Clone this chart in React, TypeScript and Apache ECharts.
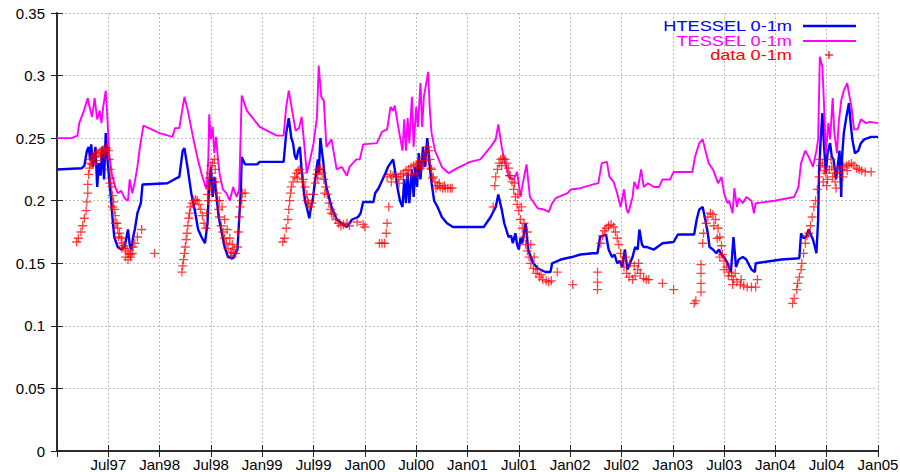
import React, { useEffect, useRef } from "react";
import * as echarts from "echarts";

// x values are months since Jan 1997
const X_TICK_LABELS = ["", "Jul97", "Jan98", "Jul98", "Jan99", "Jul99", "Jan00", "Jul00", "Jan01", "Jul01", "Jan02", "Jul02", "Jan03", "Jul03", "Jan04", "Jul04", "Jan05"];

const LEGEND_NAMES = ["HTESSEL 0-1m", "TESSEL 0-1m", "data 0-1m"];

const HTESSEL: [number, number][] = [
  // 1997
  [0, 0.225], [2.9, 0.226], [3.2, 0.228], [3.5, 0.24], [3.7, 0.243], [3.9, 0.232], [4.0, 0.245], [4.2, 0.227], [4.5, 0.243], [4.7, 0.211],
  [4.9, 0.23], [5.1, 0.22], [5.3, 0.243], [5.5, 0.217], [5.7, 0.254], [5.9, 0.233], [6.3, 0.203], [6.5, 0.185], [6.7, 0.171], [7.1, 0.163],
  [7.5, 0.161], [7.9, 0.163], [8.3, 0.177], [8.5, 0.165], [8.7, 0.161], [8.9, 0.171], [9.1, 0.177], [9.4, 0.19], [9.8, 0.198], [10.0, 0.213],
  [12.9, 0.214], [13.7, 0.217], [14.3, 0.219],
  // 1998
  [14.7, 0.24], [14.9, 0.242], [15.3, 0.225], [15.7, 0.206], [16.1, 0.193], [16.5, 0.177], [16.9, 0.171], [17.3, 0.166], [17.6, 0.182], [17.8, 0.214],
  [18.0, 0.227], [18.2, 0.203], [18.4, 0.219], [18.7, 0.2], [18.9, 0.187], [19.2, 0.177], [19.6, 0.163], [20.0, 0.155], [20.6, 0.154], [21.1, 0.161],
  [21.5, 0.209], [21.6, 0.235], [22.0, 0.229], [23.4, 0.229], [23.7, 0.231], [26.5, 0.231],
  // 1999
  [26.8, 0.254], [27.1, 0.266], [27.4, 0.25], [27.6, 0.246], [27.8, 0.236], [28.0, 0.233], [28.2, 0.24], [28.4, 0.243], [28.6, 0.225], [28.8, 0.211],
  [29.0, 0.2], [29.2, 0.195], [29.5, 0.186], [29.7, 0.195], [29.9, 0.2], [30.1, 0.212], [30.2, 0.217], [30.4, 0.228], [30.5, 0.233], [30.6, 0.222],
  [30.8, 0.25], [31.0, 0.238], [31.1, 0.233], [31.3, 0.22], [31.5, 0.211], [31.8, 0.203], [32.1, 0.195], [32.4, 0.19], [32.7, 0.185], [33.3, 0.182],
  [33.9, 0.179], [34.5, 0.185], [35.2, 0.187], [35.5, 0.19], [35.8, 0.199], [37.0, 0.199],
  // 2000
  [37.2, 0.206], [37.6, 0.21], [38.0, 0.216], [38.4, 0.222], [38.7, 0.227], [39.0, 0.23], [39.3, 0.233], [39.5, 0.225], [39.8, 0.211], [40.1, 0.2],
  [40.4, 0.195], [40.6, 0.217], [40.8, 0.198], [41.0, 0.222], [41.2, 0.198], [41.5, 0.225], [41.7, 0.203], [41.9, 0.227], [42.1, 0.211], [42.3, 0.238],
  [42.5, 0.217], [42.8, 0.243], [43.0, 0.227], [43.3, 0.25], [43.5, 0.233], [43.8, 0.214], [44.1, 0.2], [44.5, 0.195], [45.0, 0.187], [45.6, 0.182],
  [46.3, 0.179], [49.9, 0.179],
  // 2001
  [50.7, 0.187], [51.3, 0.195], [51.6, 0.205], [52.0, 0.193], [52.3, 0.182], [52.8, 0.171], [53.1, 0.172], [53.3, 0.166], [53.6, 0.174], [53.8, 0.165],
  [54.0, 0.161], [54.2, 0.17], [54.4, 0.166], [54.8, 0.182], [55.1, 0.161], [55.4, 0.155], [55.7, 0.15], [56.2, 0.146], [57.1, 0.143], [57.7, 0.143],
  [57.9, 0.15], [58.9, 0.153], [60.2, 0.155], [61.2, 0.157], [62.7, 0.158], [63.2, 0.158],
  // 2002
  [63.5, 0.171], [64.2, 0.173], [64.5, 0.161], [64.9, 0.155], [65.2, 0.157], [65.5, 0.15], [65.8, 0.152], [66.1, 0.147], [66.4, 0.161], [66.7, 0.145],
  [67.0, 0.15], [67.3, 0.155], [67.6, 0.163], [67.9, 0.161], [68.1, 0.177], [68.4, 0.165], [68.6, 0.163], [69.0, 0.163], [69.8, 0.161], [70.8, 0.166],
  [72.1, 0.167], [72.6, 0.173], [74.5, 0.173],
  // 2003
  [74.8, 0.185], [75.1, 0.193], [75.5, 0.195], [75.8, 0.185], [76.1, 0.174], [76.3, 0.163], [76.7, 0.161], [77.1, 0.158], [77.4, 0.161], [77.7, 0.157],
  [78.0, 0.155], [78.4, 0.15], [78.8, 0.143], [79.1, 0.171], [79.4, 0.147], [79.7, 0.153], [80.2, 0.155], [80.6, 0.153], [81.2, 0.145], [81.6, 0.143],
  [81.7, 0.15], [82.7, 0.151], [84.7, 0.153], [86.8, 0.154],
  // 2004
  [87.0, 0.174], [87.3, 0.17], [87.6, 0.171], [87.9, 0.177], [88.2, 0.172], [88.4, 0.169], [88.8, 0.158], [89.0, 0.185], [89.1, 0.222], [89.3, 0.249],
  [89.5, 0.27], [89.7, 0.243], [89.9, 0.222], [90.1, 0.238], [90.4, 0.246], [90.6, 0.235], [90.8, 0.233], [91.1, 0.217], [91.5, 0.24], [91.7, 0.203],
  [91.8, 0.235], [92.0, 0.254], [92.3, 0.267], [92.6, 0.278], [92.8, 0.262], [93.0, 0.249], [93.3, 0.238], [93.7, 0.24], [94.0, 0.246], [94.4, 0.249],
  [95.2, 0.251], [96, 0.251],
];

const TESSEL: [number, number][] = [
  // 1997
  [0, 0.25], [1.7, 0.25], [2.4, 0.252], [2.6, 0.262], [3.1, 0.271], [3.6, 0.282], [3.8, 0.275], [4.1, 0.267], [4.4, 0.282], [4.7, 0.265],
  [5.0, 0.272], [5.2, 0.262], [5.4, 0.275], [5.7, 0.288], [5.9, 0.265], [6.1, 0.238], [6.4, 0.222], [6.8, 0.211], [7.1, 0.206], [7.5, 0.208],
  [7.9, 0.202], [8.3, 0.2], [8.5, 0.217], [8.8, 0.206], [9.1, 0.215], [9.4, 0.227], [9.7, 0.243], [10.1, 0.26], [12.0, 0.254], [13.5, 0.251],
  [13.8, 0.258], [14.3, 0.258],
  // 1998
  [14.9, 0.283], [15.3, 0.272], [15.9, 0.251], [16.4, 0.235], [17.0, 0.219], [17.5, 0.209], [17.7, 0.235], [17.8, 0.269], [18.0, 0.249], [18.2, 0.259],
  [18.4, 0.238], [18.6, 0.251], [18.8, 0.235], [19.0, 0.222], [19.4, 0.209], [19.8, 0.206], [20.2, 0.2], [20.6, 0.211], [21.0, 0.203], [21.3, 0.209],
  [21.6, 0.284], [22.2, 0.272], [23.7, 0.259], [25.7, 0.252], [26.5, 0.252],
  // 1999
  [26.8, 0.275], [27.1, 0.288], [27.5, 0.272], [27.9, 0.256], [28.3, 0.258], [28.6, 0.267], [28.9, 0.246], [29.2, 0.222], [29.6, 0.233], [30.0, 0.246],
  [30.4, 0.267], [30.6, 0.308], [30.9, 0.283], [31.2, 0.28], [31.5, 0.243], [32.1, 0.249], [32.7, 0.225], [33.3, 0.227], [33.9, 0.22], [34.2, 0.227],
  [35.0, 0.233], [35.4, 0.233], [35.8, 0.245],
  // 2000
  [37.4, 0.246], [38.0, 0.255], [38.6, 0.257], [39.0, 0.275], [39.3, 0.272], [39.5, 0.276], [39.9, 0.259], [40.4, 0.24], [40.6, 0.265], [40.8, 0.24],
  [41.0, 0.266], [41.2, 0.246], [41.5, 0.283], [41.7, 0.243], [42.0, 0.275], [42.2, 0.259], [42.5, 0.294], [42.7, 0.259], [42.9, 0.283], [43.1, 0.291],
  [43.4, 0.303], [43.6, 0.272], [43.8, 0.254], [44.2, 0.24], [45.0, 0.227], [45.8, 0.222], [46.8, 0.226], [48.3, 0.231], [49.5, 0.233],
  // 2001
  [50.7, 0.243], [51.3, 0.249], [51.6, 0.261], [52.0, 0.243], [52.3, 0.233], [52.8, 0.219], [53.4, 0.217], [53.8, 0.223], [54.2, 0.203], [54.5, 0.215],
  [54.9, 0.229], [55.3, 0.203], [56.2, 0.194], [56.9, 0.193], [57.5, 0.191], [57.9, 0.198], [58.3, 0.202], [59.7, 0.206], [60.1, 0.209], [61.2, 0.21],
  [62.7, 0.213], [63.3, 0.214],
  // 2002
  [63.7, 0.23], [64.3, 0.231], [64.6, 0.219], [65.1, 0.215], [65.5, 0.206], [65.9, 0.195], [66.3, 0.209], [66.6, 0.193], [66.8, 0.19], [67.3, 0.203],
  [67.5, 0.215], [67.9, 0.209], [68.3, 0.225], [68.6, 0.211], [69.1, 0.214], [69.8, 0.211], [70.4, 0.211], [70.8, 0.217], [71.7, 0.217], [72.1, 0.223],
  [74.3, 0.223],
  // 2003
  [74.6, 0.235], [75.1, 0.246], [75.5, 0.249], [75.9, 0.238], [76.2, 0.23], [76.7, 0.225], [77.3, 0.214], [77.7, 0.219], [78.0, 0.206], [78.4, 0.198],
  [78.6, 0.2], [79.0, 0.19], [79.2, 0.21], [79.5, 0.195], [79.7, 0.202], [80.2, 0.198], [80.6, 0.203], [81.2, 0.2], [81.5, 0.19], [81.7, 0.198],
  [83.9, 0.2], [86.2, 0.203],
  // 2004
  [86.7, 0.211], [87.0, 0.23], [87.5, 0.24], [87.9, 0.235], [88.4, 0.227], [88.8, 0.24], [89.0, 0.249], [89.2, 0.315], [89.5, 0.307], [89.7, 0.275],
  [89.9, 0.238], [90.2, 0.262], [90.4, 0.249], [90.7, 0.282], [90.9, 0.254], [91.2, 0.238], [91.4, 0.262], [91.7, 0.28], [92.0, 0.288], [92.4, 0.294],
  [92.6, 0.286], [92.9, 0.275], [93.2, 0.257], [93.6, 0.257], [94.0, 0.265], [94.6, 0.262], [95.0, 0.263], [96, 0.262],
];

const DATA: [number, number][] = [
  // 1997
  [2.3, 0.167], [2.5, 0.17], [2.8, 0.175], [3.0, 0.18], [3.2, 0.186], [3.4, 0.192], [3.5, 0.199], [3.6, 0.206], [3.6, 0.213], [3.7, 0.221],
  [3.8, 0.226], [3.9, 0.23], [4.0, 0.233], [4.2, 0.235], [4.4, 0.236], [4.6, 0.238], [4.8, 0.238], [5.0, 0.239], [5.2, 0.24], [5.4, 0.241],
  [5.6, 0.241], [5.8, 0.242], [6.0, 0.24], [6.1, 0.233], [6.2, 0.225], [6.3, 0.218], [6.4, 0.211], [6.5, 0.204], [6.6, 0.199], [6.7, 0.193],
  [6.8, 0.188], [7.0, 0.182], [7.1, 0.178], [7.3, 0.174], [7.5, 0.17], [7.6, 0.166], [7.8, 0.164], [8.0, 0.162], [8.2, 0.16], [8.4, 0.158],
  [8.6, 0.157], [8.8, 0.158], [8.0, 0.155], [8.3, 0.153], [8.9, 0.163], [9.1, 0.166], [9.4, 0.171], [9.9, 0.177], [11.4, 0.158],
  [4.1, 0.229], [4.5, 0.232], [5.1, 0.235], [5.5, 0.237], [6.2, 0.214], [6.5, 0.195], [6.8, 0.182], [7.2, 0.171], [7.6, 0.162], [8.6, 0.155],
  // 1998
  [14.6, 0.143], [14.7, 0.148], [14.8, 0.153], [14.9, 0.158], [15.0, 0.163], [15.1, 0.169], [15.2, 0.174], [15.3, 0.18], [15.4, 0.186], [15.5, 0.19],
  [15.6, 0.195], [15.8, 0.198], [16.0, 0.2], [16.2, 0.201], [16.4, 0.2], [16.6, 0.197], [16.8, 0.193], [17.0, 0.188], [17.2, 0.182], [17.4, 0.178],
  [17.5, 0.19], [17.6, 0.205], [17.7, 0.212], [17.8, 0.218], [17.9, 0.222], [18.0, 0.228], [18.2, 0.23], [18.4, 0.233], [18.5, 0.225], [18.6, 0.215],
  [18.7, 0.206], [18.8, 0.2], [18.9, 0.193], [19.0, 0.187], [19.2, 0.18], [19.4, 0.175], [19.6, 0.17], [19.8, 0.166], [20.0, 0.162], [20.3, 0.159],
  [20.6, 0.158], [20.9, 0.158], [21.1, 0.163], [21.2, 0.175], [21.3, 0.187], [21.4, 0.195], [21.6, 0.2], [21.7, 0.206], [19.0, 0.2], [19.3, 0.195],
  [19.6, 0.185], [19.9, 0.177], [20.2, 0.17], [20.5, 0.165], [18.3, 0.215], [18.0, 0.21], [17.7, 0.2], [20.4, 0.156], [20.7, 0.161], [22.0, 0.206],
  // 1999
  [26.4, 0.167], [26.6, 0.17], [26.8, 0.178], [27.0, 0.185], [27.1, 0.193], [27.2, 0.2], [27.3, 0.206], [27.4, 0.211], [27.6, 0.215], [27.8, 0.219],
  [28.0, 0.222], [28.2, 0.224], [28.4, 0.225], [28.6, 0.222], [28.8, 0.217], [29.0, 0.211], [29.2, 0.205], [29.4, 0.198], [29.6, 0.195], [29.8, 0.198],
  [30.0, 0.205], [30.2, 0.214], [30.4, 0.221], [30.6, 0.225], [30.8, 0.226], [31.0, 0.222], [31.2, 0.217], [31.4, 0.211], [31.6, 0.205], [31.8, 0.198],
  [32.0, 0.193], [32.3, 0.189], [32.6, 0.185], [32.9, 0.182], [33.2, 0.18], [33.5, 0.181], [33.9, 0.182], [34.2, 0.18], [35.8, 0.181], [36.0, 0.179],
  [28.1, 0.218], [28.7, 0.215], [29.3, 0.2], [30.5, 0.218], [31.3, 0.206], [32.1, 0.19],
  // 2000
  [35.1, 0.183], [37.7, 0.166], [38.0, 0.166], [38.3, 0.166], [38.5, 0.174], [38.6, 0.182], [38.8, 0.195], [38.6, 0.219], [39.0, 0.221], [39.3, 0.22],
  [39.6, 0.219], [39.9, 0.219], [40.2, 0.221], [40.5, 0.222], [40.8, 0.224], [41.1, 0.225], [41.4, 0.227], [41.7, 0.228], [42.0, 0.229], [42.3, 0.23],
  [42.6, 0.232], [42.9, 0.235], [43.1, 0.238], [43.3, 0.243], [43.5, 0.24], [43.6, 0.233], [43.8, 0.225], [44.0, 0.219], [44.2, 0.215], [44.5, 0.212],
  [44.8, 0.211], [45.1, 0.21], [45.4, 0.21], [45.7, 0.21], [46.0, 0.21], [46.2, 0.21], [40.5, 0.217], [41.0, 0.22], [42.0, 0.222], [42.5, 0.226],
  [39.1, 0.215], [40.0, 0.214], [41.5, 0.221], [42.8, 0.228], [43.2, 0.232], [43.7, 0.226], [43.9, 0.218], [44.3, 0.21], [44.7, 0.214], [45.3, 0.212],
  // 2001
  [51.0, 0.195], [51.2, 0.212], [51.3, 0.219], [51.5, 0.225], [51.7, 0.23], [51.9, 0.233], [52.1, 0.234], [52.4, 0.233], [52.6, 0.23], [52.8, 0.226],
  [53.0, 0.22], [53.2, 0.215], [53.4, 0.209], [53.6, 0.203], [53.8, 0.197], [54.0, 0.192], [54.2, 0.185], [54.4, 0.178], [54.6, 0.171], [54.8, 0.165],
  [55.0, 0.16], [55.2, 0.155], [55.4, 0.15], [55.7, 0.146], [56.0, 0.142], [56.4, 0.139], [56.8, 0.137], [57.2, 0.136], [57.5, 0.135], [57.8, 0.136],
  [58.5, 0.143], [54.6, 0.182], [55.0, 0.175], [55.4, 0.165], [55.8, 0.155], [60.3, 0.133], [63.2, 0.143], [63.2, 0.129], [63.2, 0.135],
  [52.0, 0.228], [52.9, 0.22], [53.5, 0.214], [53.9, 0.205], [54.3, 0.195], [56.2, 0.145], [56.6, 0.141],
  // 2002
  [63.6, 0.166], [63.8, 0.172], [64.0, 0.176], [64.2, 0.178], [64.5, 0.18], [64.8, 0.181], [65.1, 0.179], [65.3, 0.175], [65.5, 0.17], [65.7, 0.165],
  [65.9, 0.158], [66.1, 0.152], [66.3, 0.147], [66.6, 0.142], [66.9, 0.139], [67.3, 0.137], [67.6, 0.14], [67.9, 0.145], [68.2, 0.142], [68.6, 0.138],
  [68.9, 0.137], [69.2, 0.137], [66.5, 0.155], [67.0, 0.15], [67.5, 0.148], [68.0, 0.15], [70.8, 0.134], [72.1, 0.129],
  // 2003
  [74.5, 0.118], [74.7, 0.12], [75.3, 0.127], [75.3, 0.134], [75.3, 0.142], [75.3, 0.149], [75.5, 0.166], [75.6, 0.174], [75.9, 0.182], [76.1, 0.187],
  [76.4, 0.19], [76.7, 0.189], [77.0, 0.185], [77.3, 0.178], [77.5, 0.171], [77.7, 0.164], [77.8, 0.157], [78.0, 0.152], [78.3, 0.147], [78.6, 0.143],
  [78.9, 0.14], [79.1, 0.137], [79.5, 0.135], [79.9, 0.133], [80.3, 0.132], [80.7, 0.131], [81.2, 0.131], [81.7, 0.131], [81.9, 0.137], [77.5, 0.155],
  [78.0, 0.145], [78.5, 0.14], [79.0, 0.133], [76.8, 0.18], [77.2, 0.17], [79.3, 0.142], [80.0, 0.137],
  // 2004
  [86.0, 0.118], [86.2, 0.122], [86.5, 0.129], [86.6, 0.134], [86.8, 0.139], [87.0, 0.145], [87.1, 0.15], [87.3, 0.158], [87.5, 0.166], [87.7, 0.172],
  [87.9, 0.174], [88.1, 0.18], [88.3, 0.187], [88.5, 0.195], [88.7, 0.2], [88.9, 0.209], [89.1, 0.219], [89.3, 0.228], [89.5, 0.23], [89.7, 0.224],
  [89.9, 0.222], [90.1, 0.217], [90.3, 0.225], [90.5, 0.233], [90.7, 0.219], [90.9, 0.222], [91.1, 0.21], [91.3, 0.225], [91.5, 0.222], [91.7, 0.225],
  [92.0, 0.227], [92.3, 0.228], [92.6, 0.229], [92.9, 0.23], [93.2, 0.228], [93.5, 0.226], [93.8, 0.225], [94.1, 0.224], [94.5, 0.223], [95.2, 0.223],
  [89.2, 0.233], [89.6, 0.215], [90.0, 0.212], [90.6, 0.227], [91.0, 0.215], [91.9, 0.219], [92.4, 0.224],
];

const BLUE = "#0000ff";
const MAGENTA = "#ff00ff";
const RED = "#ff0000";
const PLUS = "path://M3,0H4V3H7V4H4V7H3V4H0V3H3Z";
const FONT = '"Liberation Sans", Arial, sans-serif';

export default function App() {
  const ref = useRef<HTMLDivElement>(null);
  useEffect(() => {
    if (!ref.current) return;
    const chart = echarts.init(ref.current, undefined, { renderer: "svg" });
    const gridLine = { show: true, lineStyle: { color: "#bdbdbd", type: [2, 2] as any, width: 1 } };
    const axisLine = { show: true, lineStyle: { color: "#222", width: 1.5 } };
    const axisTick = { show: true, inside: true, length: 6, lineStyle: { color: "#222", width: 1 } };
    const xBase = { type: "value" as const, min: 0, max: 96, interval: 6 };
    const yBase = { type: "value" as const, min: 0, max: 0.35, interval: 0.05 };
    const legendText = (i: number, color: string, y: number) => ({
      type: "text",
      x: 792,
      y,
      scaleX: 1.3,
      z: 100,
      style: {
        text: LEGEND_NAMES[i],
        fill: color,
        font: `14px ${FONT}`,
        align: "right",
        textAlign: "right",
        verticalAlign: "middle",
        textVerticalAlign: "middle",
      },
    });
    chart.setOption({
      animation: false,
      backgroundColor: "#ffffff",
      grid: { left: 57, right: 22, top: 13, bottom: 21, outerBoundsMode: "none", containLabel: false },
      xAxis: [
        {
          ...xBase,
          position: "bottom",
          axisLine,
          axisTick,
          splitLine: gridLine,
          axisLabel: {
            margin: 6,
            color: "#000",
            fontFamily: FONT,
            fontSize: 15,
            formatter: (v: number) => X_TICK_LABELS[Math.round(v / 6)] ?? "",
          },
        },
        { ...xBase, position: "top", axisLine, axisTick, splitLine: { show: false }, axisLabel: { show: false } },
      ],
      yAxis: [
        {
          ...yBase,
          position: "left",
          axisLine,
          axisTick,
          splitLine: gridLine,
          axisLabel: {
            margin: 12,
            color: "#000",
            fontFamily: FONT,
            fontSize: 15,
            formatter: (v: number) => String(parseFloat(v.toFixed(2))),
          },
        },
        { ...yBase, position: "right", axisLine, axisTick, splitLine: { show: false }, axisLabel: { show: false } },
      ],
      series: [
        {
          name: LEGEND_NAMES[0],
          type: "line",
          data: HTESSEL,
          symbol: "none",
          lineStyle: { color: BLUE, width: 2.4 },
          itemStyle: { color: BLUE },
          z: 2,
        },
        {
          name: LEGEND_NAMES[1],
          type: "line",
          data: TESSEL,
          symbol: "none",
          lineStyle: { color: MAGENTA, width: 1.9 },
          itemStyle: { color: MAGENTA },
          z: 3,
        },
        {
          name: LEGEND_NAMES[2],
          type: "scatter",
          data: DATA,
          symbol: PLUS,
          symbolSize: 9,
          itemStyle: { color: RED, opacity: 0.75 },
          z: 4,
        },
      ],
      graphic: [
        legendText(0, BLUE, 26),
        legendText(1, MAGENTA, 41),
        legendText(2, RED, 55),
        { type: "line", z: 100, shape: { x1: 803, y1: 26, x2: 856, y2: 26 }, style: { stroke: BLUE, lineWidth: 2.4 } },
        { type: "line", z: 100, shape: { x1: 803, y1: 41, x2: 856, y2: 41 }, style: { stroke: MAGENTA, lineWidth: 1.9 } },
        { type: "line", z: 100, shape: { x1: 825, y1: 55, x2: 833, y2: 55 }, style: { stroke: RED, lineWidth: 1.2 } },
        { type: "line", z: 100, shape: { x1: 829, y1: 51, x2: 829, y2: 59 }, style: { stroke: RED, lineWidth: 1.2 } },
      ],
    });
    return () => chart.dispose();
  }, []);
  return <div ref={ref} style={{ position: "absolute", left: 0, top: 0, width: 900, height: 472 }} />;
}
